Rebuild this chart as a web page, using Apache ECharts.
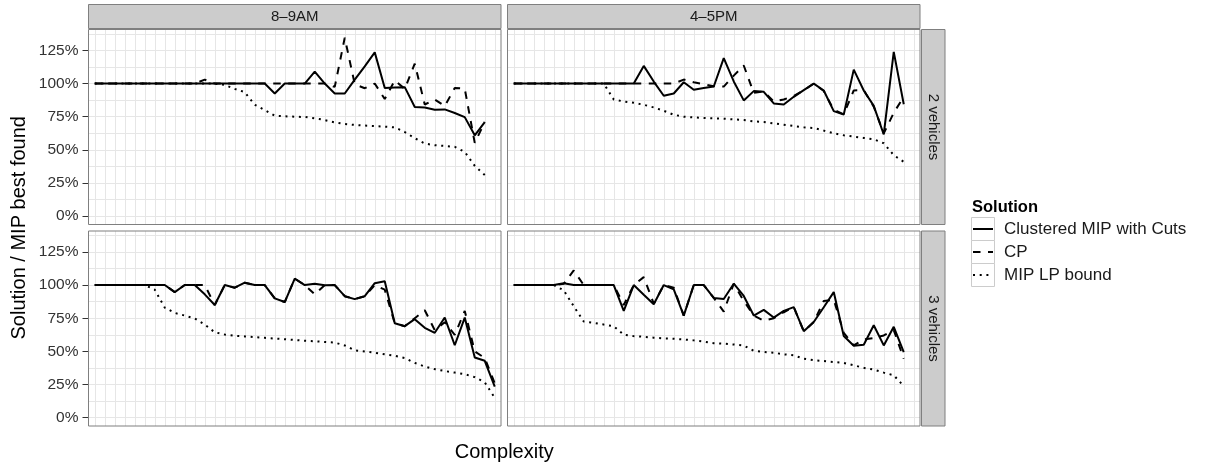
<!DOCTYPE html>
<html>
<head>
<meta charset="utf-8">
<script src="https://cdn.jsdelivr.net/npm/echarts@6/dist/echarts.min.js"></script>
<style>
  html, body { margin: 0; padding: 0; background: #fff; }
  #chart { width: 1205px; height: 469px; }
</style>
</head>
<body>
<div id="chart"></div>
<script>
// instances ordered by complexity (the x axis carries no labels)
const categories = ['1','2','3','4','5','6','7','8','9','10','11','12','13','14','15','16','17','18','19','20',
  '21','22','23','24','25','26','27','28','29','30','31','32','33','34','35','36','37','38','39','40','41'];
const facetCols = ['8–9AM', '4–5PM'];
const facetRows = ['2 vehicles', '3 vehicles'];
const solutions = ['Clustered MIP with Cuts', 'CP', 'MIP LP bound'];

// values in percent of MIP best found
const am2Clustered = [100,100,100,100,100,100,100,100,100,100,100,100,100,100,100,100,100,100,
  92.5,100,100,100,109,100,92.5,92.5,103,113,123.5,96.7,97,97.3,82.3,82,80.3,80.5,77.8,74.7,61,71];
const am2Cp = [100,100,100,100,100,100,100,100,100,100,100,103,100,100,100,100,100,100,100,100,100,100,100,100,
  97.5,134.5,99.5,96.5,100,88.3,102.3,96,115,84.2,88,83,96.7,96.1,55.3,71];
const am2Lp = [100,100,100,100,100,100,100,100,100,100,100,100,100,
  99,96,93.5,84,80,75.8,75.3,75,74.8,73.8,72.5,70.7,69.5,68.8,68.3,68,67.5,67,63.5,58.8,54.8,53.5,53,52.3,48.5,38,31];

const pm2Clustered = [100,100,100,100,100,100,100,100,100,100,100,100,100,
  113.3,101.5,90.8,92.5,101,95.3,96.6,97.8,119.2,101.6,87.3,94.3,93.8,85,84.2,90,95,100,94.8,79.2,76.7,110.5,94.8,83.2,61.6,123.9,84.4];
const pm2Cp = [100,100,100,100,100,100,100,100,100,100,100,100,100,100,100,100,100,
  103,101,99.5,98,97.7,106,113.6,93,94,86.4,88,90.7,94.8,100,94.4,80.2,76.8,94.8,95,82.6,62.4,78,90];
const pm2Lp = [100,100,100,100,100,100,100,100,100,100,
  88,86.5,85.5,84,82,79.5,76.5,75,74.5,74,73.8,73.5,73,72.5,71.5,71,70,69,68,67,66.5,64.5,62.5,61,60,59,58,55,46,41];

const am3Clustered = [100,100,100,100,100,100,100,100,
  94.7,100,100,93,85,100,98,101.8,100,100,90,87.2,104.8,100,101,99.8,100,91.6,89.4,91.6,101.4,102.9,
  71.2,69,74.3,67.8,64,75.5,54.6,75.5,45.4,42.9,23.5];
const am3Cp = [100,100,100,100,100,100,100,100,
  94.7,100,100,100,85,100,98,101.8,100,100,90,87.2,104.8,100,93,100,100,91.6,89.4,91.6,100,96.5,
  71.2,69,75,81,66,72,62.5,80.5,50,45,26];
const am3Lp = [100,100,100,100,100,100,
  96.5,83,79,77,74.8,70.2,64.4,62.7,61.8,61.3,60.7,60.2,59.7,59.2,58.6,58,57.6,57.1,56.6,54.5,
  50.8,50,49,47.8,46.7,45,41.3,38.6,36.6,35.2,34,32.8,30.6,26.7,15];

const pm3Clustered = [100,100,100,100,100,
  101.3,100,100,100,100,100,80.5,100,92.7,85.5,100,96.7,77,100,100,90.3,89.5,101,91.8,77,
  81.3,75.5,80.5,83.4,65.2,72.1,83.3,94.7,61.6,54.2,55,69.7,54.5,68.5,49.5];
const pm3Cp = [100,100,100,100,100,
  101,111,100,100,100,100,85,100,106,86,100,98,77,100,100,90.3,80,101,88,77,
  73,75,79.5,83.4,65.2,72.1,88,89,64,54.5,59,60,62,66,44.5];
const pm3Lp = [100,100,100,100,100,
  96,84,72.5,71.5,70.2,69,62.5,61.5,61,60.3,59.8,59.5,59,58.3,57.3,56.2,55.8,55.2,54.4,50.5,
  49.6,49,47.8,47,44.5,43.4,42.7,42,41.3,39.5,37.6,36.3,34,32,23.8];

// panel order: [row][col]
const panelData = [
  [[am2Clustered, am2Cp, am2Lp], [pm2Clustered, pm2Cp, pm2Lp]],
  [[am3Clustered, am3Cp, am3Lp], [pm3Clustered, pm3Cp, pm3Lp]]
];

// ---- layout ----
const font = '"Liberation Sans", Arial, Helvetica, sans-serif';
const gridColor = '#e6e6e6';
const colX = [88.5, 507.5];
const rowY = [29.5, 231];
const panelW = 412.5, panelH = 195;
const xPad = 6.25;
const yMin = -6.25, yMax = 140.75;
const lineDashes = [null, [7.5, 7.5], [2, 4.7]];

function yPx(top, v) {
  return top + panelH - (v - yMin) / (yMax - yMin) * panelH;
}

const grids = [], xAxes = [], yAxes = [], series = [];
function addGrid(g, xa, ya) {
  const gi = grids.length;
  grids.push(Object.assign({ show: false, containLabel: false, outerBoundsMode: 'none' }, g));
  xa.gridIndex = gi; ya.gridIndex = gi;
  xAxes.push(xa); yAxes.push(ya);
  return gi;
}

const graphics = [];

for (let r = 0; r < 2; r++) {
  for (let c = 0; c < 2; c++) {
    const left = colX[c], top = rowY[r];
    const zeroY = yPx(top, 0);

    // horizontal grid lines (major + minor)
    const hTop = yPx(top, 137.5);
    addGrid({ left: left, top: hTop, width: panelW, height: zeroY - hTop },
      { type: 'value', show: false },
      { type: 'value', min: 0, max: 137.5, interval: 12.5,
        axisLine: { show: false, onZero: false }, axisTick: { show: false }, axisLabel: { show: false },
        splitLine: { show: true, lineStyle: { color: gridColor, width: 1 } } });

    // y tick labels on the left column
    if (c === 0) {
      const tTop = yPx(top, 125);
      addGrid({ left: left, top: tTop, width: panelW, height: zeroY - tTop },
        { type: 'value', show: false },
        { type: 'value', min: 0, max: 125, interval: 25,
          axisLine: { show: false, onZero: false },
          axisTick: { show: true, length: 6, lineStyle: { color: '#333', width: 1 } },
          axisLabel: { formatter: '{value}%', fontSize: 15.5, color: '#333', margin: 10, fontFamily: font },
          splitLine: { show: false } });
    }

    // data grid
    const gi = addGrid({ left: left + xPad, top: top, width: panelW - 2 * xPad, height: panelH },
      { type: 'category', data: categories, boundaryGap: false,
        axisLine: { show: false, onZero: false }, axisTick: { show: false }, axisLabel: { show: false },
        splitLine: { show: true, interval: 0, lineStyle: { color: gridColor, width: 1 } } },
      { type: 'value', min: yMin, max: yMax, show: false });

    panelData[r][c].forEach((vals, s) => {
      series.push({
        type: 'line', name: solutions[s], data: vals,
        xAxisIndex: gi, yAxisIndex: gi,
        symbol: 'none', showSymbol: false, silent: true, z: 3,
        lineStyle: { color: '#000', width: 2, type: lineDashes[s] || 'solid', cap: 'butt' }
      });
    });

    // panel border
    graphics.push({ type: 'rect', z: 100, silent: true,
      shape: { x: left, y: top, width: panelW, height: panelH },
      style: { fill: 'none', stroke: '#7f7f7f', lineWidth: 1 } });
  }
}

// column strips
facetCols.forEach((lab, c) => {
  graphics.push({ type: 'rect', z: 100, shape: { x: colX[c], y: 4.5, width: panelW, height: 24 },
    style: { fill: '#cccccc', stroke: '#7f7f7f', lineWidth: 1 } });
  graphics.push({ type: 'text', z: 101, x: colX[c] + panelW / 2, y: 17,
    style: { text: lab, font: '15px ' + font, fill: '#1a1a1a', align: 'center', verticalAlign: 'middle' } });
});
// row strips
facetRows.forEach((lab, r) => {
  graphics.push({ type: 'rect', z: 100, shape: { x: 921.5, y: rowY[r], width: 23.5, height: panelH },
    style: { fill: '#cccccc', stroke: '#7f7f7f', lineWidth: 1 } });
  graphics.push({ type: 'text', z: 101, x: 933.5, y: rowY[r] + panelH / 2, rotation: -Math.PI / 2,
    style: { text: lab, font: '15px ' + font, fill: '#1a1a1a', align: 'center', verticalAlign: 'middle' } });
});

// axis titles
graphics.push({ type: 'text', x: 19, y: (rowY[0] + rowY[1] + panelH) / 2, rotation: Math.PI / 2,
  style: { text: 'Solution / MIP best found', font: '20px ' + font, fill: '#000', align: 'center', verticalAlign: 'middle' } });
graphics.push({ type: 'text', x: (colX[0] + colX[1] + panelW) / 2, y: 452,
  style: { text: 'Complexity', font: '20px ' + font, fill: '#000', align: 'center', verticalAlign: 'middle' } });

// legend
const legendLeft = 971.5, legendTop = 217.5, keySize = 23;
graphics.push({ type: 'text', x: 972, y: 207,
  style: { text: 'Solution', font: 'bold 16.5px ' + font, fill: '#000', align: 'left', verticalAlign: 'middle' } });
solutions.forEach((s, i) => {
  const y0 = legendTop + i * keySize;
  graphics.push({ type: 'rect', z: 1, shape: { x: legendLeft, y: y0, width: keySize, height: keySize },
    style: { fill: '#fff', stroke: '#cccccc', lineWidth: 1 } });
  graphics.push({ type: 'line', z: 2,
    shape: { x1: legendLeft + 1.5, y1: y0 + keySize / 2, x2: legendLeft + keySize - 1.5, y2: y0 + keySize / 2 },
    style: { stroke: '#000', lineWidth: 2, lineDash: lineDashes[i], lineCap: 'butt' } });
  graphics.push({ type: 'text', z: 2, x: 1004, y: y0 + keySize / 2,
    style: { text: s, font: '17px ' + font, fill: '#1a1a1a', align: 'left', verticalAlign: 'middle' } });
});

const chart = echarts.init(document.getElementById('chart'), null, { renderer: 'canvas' });
chart.setOption({
  animation: false,
  backgroundColor: '#fff',
  textStyle: { fontFamily: font },
  grid: grids,
  xAxis: xAxes,
  yAxis: yAxes,
  series: series,
  graphic: graphics
});
</script>
</body>
</html>
